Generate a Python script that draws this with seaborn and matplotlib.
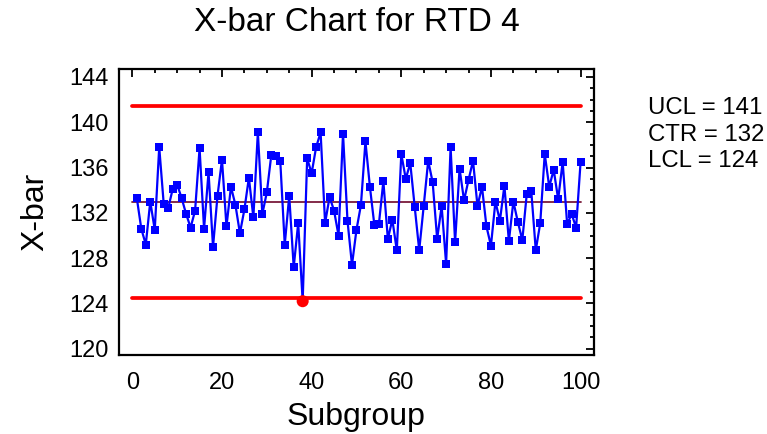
import pandas as pd
import matplotlib
matplotlib.use('Agg')
import matplotlib.pyplot as plt
from matplotlib.ticker import MultipleLocator
import seaborn as sns

# Subgroup means
subgroup = list(range(1, 101))
xbar = [133.3, 130.6, 129.2, 133.0, 130.5, 137.8, 132.8, 132.4, 134.1, 134.5,
        133.3, 131.9, 130.7, 132.2, 137.7, 130.6, 135.6, 129.0, 133.5, 136.7,
        130.8, 134.3, 132.7, 130.2, 132.3, 135.1, 131.6, 139.1, 131.9, 133.8,
        137.1, 137.0, 136.6, 129.2, 133.5, 127.2, 131.1, 124.2, 136.8, 135.5,
        137.8, 139.1, 131.1, 133.4, 132.2, 130.0, 139.0, 131.3, 127.4, 130.5,
        132.7, 138.3, 134.3, 130.9, 131.0, 134.8, 129.7, 131.4, 128.7, 137.2,
        135.0, 136.4, 132.5, 128.7, 132.6, 136.6, 134.7, 129.7, 132.6, 127.5,
        137.8, 129.4, 135.9, 133.1, 134.9, 136.6, 132.6, 134.3, 130.8, 129.1,
        133.0, 131.3, 134.4, 129.5, 133.0, 131.2, 129.6, 133.7, 133.9, 128.7,
        131.1, 137.2, 134.3, 135.8, 133.2, 136.5, 131.0, 131.9, 130.7, 136.5]

# Control limits
ucl = 141.42
ctr = 132.97
lcl = 124.52
limit_names = ['UCL', 'CTR', 'LCL']
limit_values = [ucl, ctr, lcl]

df = pd.DataFrame({'Subgroup': subgroup, 'Xbar': xbar})
out_of_control = df[(df['Xbar'] > ucl) | (df['Xbar'] < lcl)]

sns.set_style('white')
plt.rcParams['font.family'] = ['Liberation Sans', 'DejaVu Sans']
plt.rcParams['text.color'] = 'black'
plt.rcParams['axes.labelcolor'] = 'black'
plt.rcParams['xtick.color'] = 'black'
plt.rcParams['ytick.color'] = 'black'

fig = plt.figure(figsize=(7.67, 4.34), dpi=100)
ax = fig.add_axes([0.155, 0.182, 0.6195, 0.659])

# Control lines
ax.plot([0, 100], [ucl, ucl], color='#ff0000', linewidth=2.7, zorder=2)
ax.plot([0, 100], [lcl, lcl], color='#ff0000', linewidth=2.7, zorder=2)
ax.plot([0, 100], [ctr, ctr], color='#7a1a3a', linewidth=1.3, zorder=2)

# Subgroup means
sns.lineplot(data=df, x='Subgroup', y='Xbar', ax=ax, color='#0000ff',
             linewidth=1.6, marker='s', markersize=5.3, markeredgewidth=0,
             zorder=3)

# Flag points beyond limits
sns.scatterplot(data=out_of_control, x='Subgroup', y='Xbar', ax=ax,
                color='#ff0000', s=75, edgecolor='none', zorder=4)

ax.set_xlim(-3, 103)
ax.set_ylim(119.45, 144.7)
ax.xaxis.set_major_locator(MultipleLocator(20))
ax.xaxis.set_minor_locator(MultipleLocator(5))
ax.yaxis.set_major_locator(MultipleLocator(4))
ax.yaxis.set_minor_locator(MultipleLocator(1))
ax.tick_params(which='both', direction='in', top=True, right=True,
               color='black', width=1.3)
ax.tick_params(which='major', length=6, labelsize=17)
ax.tick_params(axis='x', which='major', pad=12.5)
ax.tick_params(axis='y', which='major', pad=7.5)
ax.tick_params(which='minor', length=3)
for spine in ax.spines.values():
    spine.set_color('black')
    spine.set_linewidth(1.6)

ax.set_xlabel('Subgroup', fontsize=23)
ax.xaxis.set_label_coords(0.5, -0.165)
ax.set_ylabel('X-bar', fontsize=23)
ax.yaxis.set_label_coords(-0.175, 0.5)
ax.yaxis.label.set_verticalalignment('center')

fig.text(0.4648, 0.949, 'X-bar Chart for RTD 4', fontsize=24,
         ha='center', va='center')

for k, (name, val) in enumerate(zip(limit_names, limit_values)):
    fig.text(0.845, 0.750 - k * 0.06, f'{name} = {int(val)}', fontsize=17.3,
             ha='left', va='center')

fig.savefig('out.png', dpi=100)
